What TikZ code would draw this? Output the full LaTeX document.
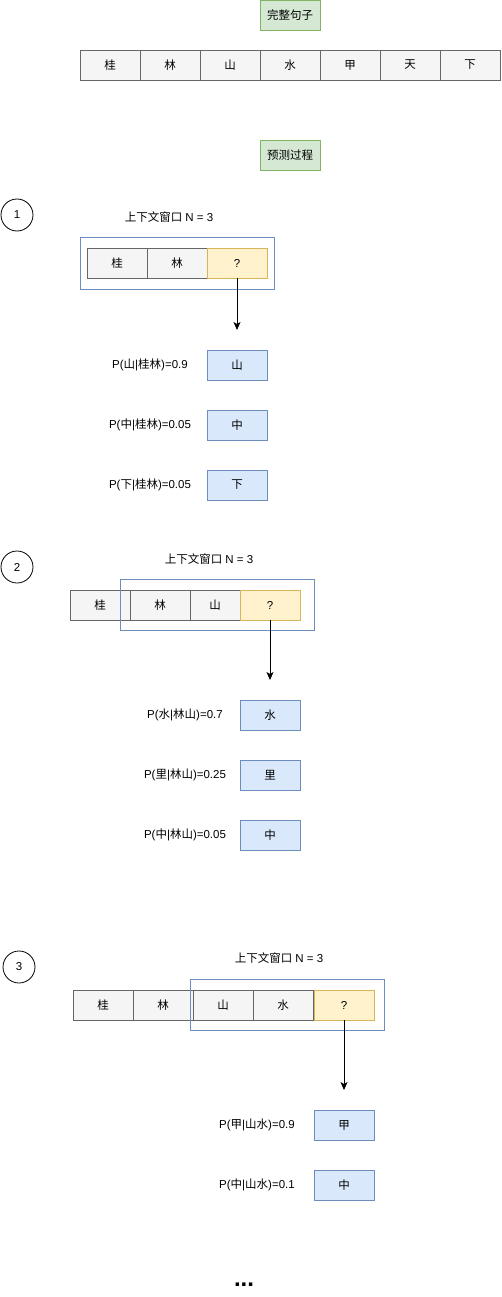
\documentclass[tikz,border=0pt]{standalone}
\usepackage{fontspec}
\setmainfont{Liberation Sans}
\newfontfamily\cjk{Noto Sans CJK SC}
\usetikzlibrary{arrows.meta}
\definecolor{gfill}{HTML}{D5E8D4}\definecolor{gdraw}{HTML}{82B366}
\definecolor{cfill}{HTML}{F5F5F5}\definecolor{cdraw}{HTML}{666666}
\definecolor{yfill}{HTML}{FFF2CC}\definecolor{ydraw}{HTML}{D6B656}
\definecolor{bfill}{HTML}{DAE8FC}\definecolor{bdraw}{HTML}{6C8EBF}
\newcommand{\zh}[1]{{\cjk #1}}
\begin{document}
\begin{tikzpicture}[x=1pt,y=-1pt,
  every node/.style={font=\fontsize{11.5}{13}\selectfont, inner sep=0pt},
  tagbox/.style={draw=gdraw, fill=gfill, line width=0.8pt},
  cellbox/.style={draw=cdraw, fill=cfill, line width=0.8pt},
  qbox/.style={draw=ydraw, fill=yfill, line width=0.8pt},
  optbox/.style={draw=bdraw, fill=bfill, line width=0.8pt},
  winbox/.style={draw=bdraw, line width=0.8pt},
  numc/.style={draw, circle, minimum size=32pt, line width=0.8pt},
  arr/.style={-{Stealth[length=8pt,width=7pt,inset=2pt]}, line width=0.8pt}]
\useasboundingbox (0,0) rectangle (502,1297);
\def\cell#1#2#3#4#5#6{\node[#6, minimum width=#3pt, minimum height=30pt] (#1) at (#4,#5) {#2};}
% top
\cell{whole}{\zh{完整句子}}{60}{290}{15}{tagbox}
\cell{t1}{\zh{桂}}{60}{110}{65}{cellbox}
\cell{t2}{\zh{林}}{60}{170}{65}{cellbox}
\cell{t3}{\zh{山}}{60}{230}{65}{cellbox}
\cell{t4}{\zh{水}}{60}{290}{65}{cellbox}
\cell{t5}{\zh{甲}}{60}{350}{65}{cellbox}
\cell{t6}{\zh{天}}{60}{410}{65}{cellbox}
\cell{t7}{\zh{下}}{60}{470}{65}{cellbox}
\cell{pred}{\zh{预测过程}}{60}{290}{155}{tagbox}
% step 1
\node[numc] (n1) at (17,215) {1};
\node (w1) at (169,217) {\zh{上下文窗口} N = 3};
\draw[winbox] (80,237) rectangle (274,289);
\cell{a1}{\zh{桂}}{60}{117}{263}{cellbox}
\cell{a2}{\zh{林}}{60}{177}{263}{cellbox}
\cell{a3}{?}{60}{237}{263}{qbox}
\coordinate (a4) at (237,330);
\draw[arr] (a3) -- (a4);
\cell{o11}{\zh{山}}{60}{237}{365}{optbox}
\cell{o12}{\zh{中}}{60}{237}{425}{optbox}
\cell{o13}{\zh{下}}{60}{237}{485}{optbox}
\node (p11) at (150,365) {P(\zh{山}|\zh{桂林})=0.9};
\node (p12) at (150,425) {P(\zh{中}|\zh{桂林})=0.05};
\node (p13) at (150,485) {P(\zh{下}|\zh{桂林})=0.05};
% step 2
\node[numc] (n2) at (17,567) {2};
\node (w2) at (209,559) {\zh{上下文窗口} N = 3};
\cell{b1}{\zh{桂}}{60}{100}{605}{cellbox}
\cell{b2}{\zh{林}}{60}{160}{605}{cellbox}
\cell{b3}{\zh{山}}{50}{215}{605}{cellbox}
\cell{b4}{?}{60}{270}{605}{qbox}
\draw[winbox] (120,579) rectangle (314,630);
\coordinate (b5) at (270,680);
\draw[arr] (b4) -- (b5);
\cell{o21}{\zh{水}}{60}{270}{715}{optbox}
\cell{o22}{\zh{里}}{60}{270}{775}{optbox}
\cell{o23}{\zh{中}}{60}{270}{835}{optbox}
\node (p21) at (185,715) {P(\zh{水}|\zh{林山})=0.7};
\node (p22) at (185,775) {P(\zh{里}|\zh{林山})=0.25};
\node (p23) at (185,835) {P(\zh{中}|\zh{林山})=0.05};
% step 3
\node[numc] (n3) at (19,967) {3};
\node (w3) at (279,958) {\zh{上下文窗口} N = 3};
\cell{c1}{\zh{桂}}{60}{103}{1005}{cellbox}
\cell{c2}{\zh{林}}{60}{163}{1005}{cellbox}
\cell{c3}{\zh{山}}{60}{223}{1005}{cellbox}
\cell{c4}{\zh{水}}{60}{283}{1005}{cellbox}
\cell{c5}{?}{60}{344}{1005}{qbox}
\draw[winbox] (190,979) rectangle (384,1030);
\coordinate (c6) at (344,1090);
\draw[arr] (c5) -- (c6);
\cell{o31}{\zh{甲}}{60}{344}{1125}{optbox}
\cell{o32}{\zh{中}}{60}{344}{1185}{optbox}
\node (p31) at (257,1125) {P(\zh{甲}|\zh{山水})=0.9};
\node (p32) at (257,1185) {P(\zh{中}|\zh{山水})=0.1};
\node[font=\fontsize{24}{26}\selectfont\bfseries] (dots) at (244,1285) {...};
\end{tikzpicture}
\end{document}
